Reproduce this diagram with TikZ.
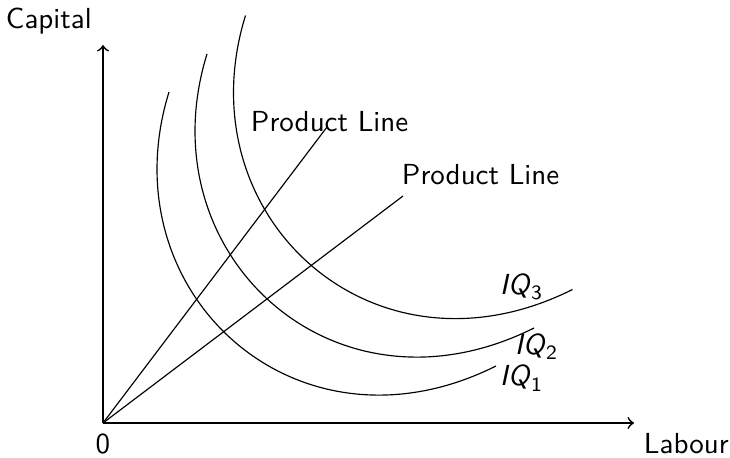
\documentclass[tikz,border=0pt]{standalone}
\begin{document}
\begin{tikzpicture}[x=0.3448pt,y=-0.3448pt,font=\sffamily,
  lbl/.style={anchor=base west,inner sep=0pt,outer sep=0pt},
  axisline/.style={semithick,->},
  ray/.style={thin},
  iso/.style={thin}]
\useasboundingbox (0,0) rectangle (730,457);
% axes
\coordinate (O) at (103,423);
\coordinate (Ytop) at (103,45);
\coordinate (Xend) at (634,423);
\draw[axisline] (O) -- (Ytop);
\draw[axisline] (O) -- (Xend);
% product lines
\coordinate (R1) at (327,127);
\coordinate (R2) at (403,196);
\draw[ray] (O) -- (R1);
\draw[ray] (O) -- (R2);
% isoquants (same shape, shifted)
\foreach \s in {0,38,76.5}{
  \begin{scope}[shift={(\s,-\s)}]
    \draw[iso] (169,92) .. controls (107,292) and (296,466) .. (496,366);
  \end{scope}
}
% labels
\node[lbl] (capital) at (6,28) {Capital};
\node[lbl] (labour) at (644,453) {Labour};
\node[anchor=base,inner sep=0pt] (zero) at (103,453) {0};
\node[lbl] (pl1) at (251,131) {Product Line};
\node[lbl] (pl2) at (402,184) {Product Line};
\node[lbl] (iq3) at (500,294) {\itshape IQ\/\raisebox{-2pt}{\scriptsize\upshape 3}};
\node[lbl] (iq2) at (515,354) {\itshape IQ\/\raisebox{-2pt}{\scriptsize\upshape 2}};
\node[lbl] (iq1) at (500,385.5) {\itshape IQ\/\raisebox{-2pt}{\scriptsize\upshape 1}};
\end{tikzpicture}
\end{document}
